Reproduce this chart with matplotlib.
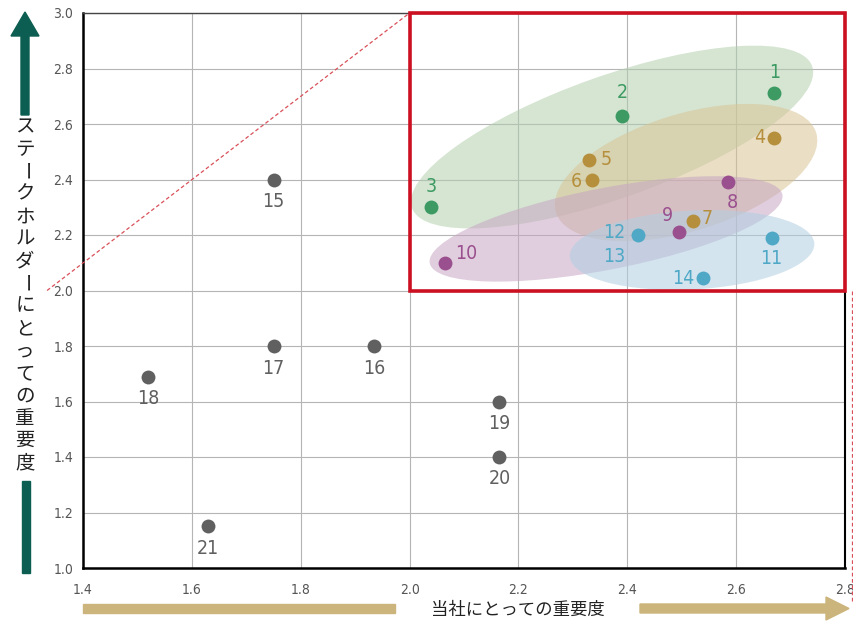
import matplotlib
matplotlib.use('Agg')
import matplotlib.pyplot as plt
from matplotlib.patches import Ellipse, Rectangle, Polygon
from matplotlib.transforms import Affine2D

plt.rcParams['font.family'] = ['Noto Sans CJK JP', 'DejaVu Sans']

# =========================
# Data
# =========================
ids = [str(i) for i in range(1, 22)]
x_company = [2.67, 2.39, 2.04, 2.67, 2.33, 2.335, 2.52, 2.585, 2.495, 2.065,
             2.665, 2.42, 2.42, 2.54, 1.75, 1.935, 1.75, 1.52, 2.165, 2.165, 1.63]
y_stake = [2.71, 2.63, 2.30, 2.55, 2.47, 2.40, 2.25, 2.39, 2.21, 2.10,
           2.19, 2.20, 2.20, 2.045, 2.40, 1.80, 1.80, 1.69, 1.60, 1.40, 1.15]
group = ['g', 'g', 'g', 't', 't', 't', 't', 'p', 'p', 'p',
         'b', 'b', 'b', 'b', 'k', 'k', 'k', 'k', 'k', 'k', 'k']

x_ticks = [1.4, 1.6, 1.8, 2.0, 2.2, 2.4, 2.6, 2.8]
y_ticks = [1.0, 1.2, 1.4, 1.6, 1.8, 2.0, 2.2, 2.4, 2.6, 2.8, 3.0]

xlabel = '当社にとっての重要度'
ylabel = 'ステークホルダーにとっての重要度'

# =========================
# Styles
# =========================
dot_color = {'g': '#3c9a62', 't': '#b58f3c', 'p': '#9a4f8e', 'b': '#4fa8c6', 'k': '#606060'}
fill_color = {'g': '#b3d0ae', 't': '#d9c394', 'p': '#c7a6c3', 'b': '#b0cfe2'}
num_font = dict(family=['DejaVu Sans'], stretch='condensed')

# label offsets in pixels (dx, dy up)
label_off = [(0, 21), (0, 23), (0, 21), (-15, 0), (17, 1), (-16, -2), (15, 3),
             (4, -20), (-12, 17), (21, 9), (0, -21), (-24, 2), (-24, -21), (-20, 0),
             (0, -22), (0, -22), (0, -22), (0, -22), (0, -22), (0, -22), (0, -22)]

# ellipses: centre (data), width/height in x-units, angle (deg, on screen)
ellipses = [('g', 2.372, 2.553, 0.78, 0.225, 19.5),
            ('t', 2.508, 2.425, 0.50, 0.215, 17.0),
            ('p', 2.361, 2.222, 0.66, 0.150, 11.0),
            ('b', 2.519, 2.146, 0.450, 0.145, 3.0)]

fig = plt.figure(figsize=(8.54, 6.30), dpi=100)
ax = fig.add_axes([83 / 854, 1 - 568 / 630, 762 / 854, 555 / 630])

ax.set_xlim(1.4, 2.8)
ax.set_ylim(1.0, 3.0)

# ratio of pixels per y-unit to pixels per x-unit
k = (555 / 2.0) / (762 / 1.4)
iso = Affine2D().scale(1, 1 / k) + ax.transData

for g, cx, cy, w, h, ang in ellipses:
    e = Ellipse((cx, cy * k), w, h, angle=ang, transform=iso,
                facecolor=fill_color[g], edgecolor='none', alpha=0.55, zorder=1)
    ax.add_patch(e)

ax.set_xticks(x_ticks)
ax.set_yticks(y_ticks)
ax.set_xticklabels([f'{v:.1f}' for v in x_ticks])
ax.set_yticklabels([f'{v:.1f}' for v in y_ticks])
for lab in ax.get_xticklabels() + ax.get_yticklabels():
    lab.set_family(num_font['family'])
    lab.set_stretch('condensed')
    lab.set_fontsize(10)
    lab.set_color('#555555')
ax.tick_params(length=0, pad=7)
ax.tick_params(axis='x', pad=11)
ax.grid(True, color='#b5b5b5', lw=0.8, zorder=0)
ax.set_axisbelow(True)

for side in ['left', 'bottom']:
    ax.spines[side].set_linewidth(1.8)
    ax.spines[side].set_color('black')
ax.spines['top'].set_linewidth(1.0)
ax.spines['top'].set_color('#444444')
ax.spines['right'].set_linewidth(1.5)
ax.spines['right'].set_color('black')

# points and labels
for i in range(len(ids)):
    if ids[i] != '13':
        ax.scatter(x_company[i], y_stake[i], s=100, color=dot_color[group[i]],
                   zorder=4, linewidths=0)
    dx, dy = label_off[i]
    ax.annotate(ids[i], (x_company[i], y_stake[i]), xytext=(dx * 0.72, dy * 0.72),
                textcoords='offset points', ha='center', va='center',
                fontsize=14, color=dot_color[group[i]], zorder=5, **num_font)

# red box and dashed guide lines
ax.add_patch(Rectangle((2.0, 2.0), 0.8, 1.0, fill=False, edgecolor='#cc1022',
                       lw=2.6, zorder=6, clip_on=False))
ax.plot([1.334, 2.0], [2.0, 3.0], color='#d9505a', lw=0.9, ls=(0, (3, 2)),
        clip_on=False, zorder=3)
ax.plot([2.813, 2.813], [2.0, 0.88], color='#d9505a', lw=0.9, ls=(0, (3, 2)),
        clip_on=False, zorder=3)

# =========================
# Overlay in pixel units for axis arrows and titles
# =========================
ov = fig.add_axes([0, 0, 1, 1], zorder=-1)
ov.set_xlim(0, 854)
ov.set_ylim(630, 0)
ov.axis('off')

teal = '#0d5e52'
gold = '#cbb57c'

# up arrow
ov.add_patch(Polygon([(21, 115), (29, 115), (29, 36), (39, 36), (25, 12),
                      (11, 36), (21, 36)], closed=True, color=teal))
ov.add_patch(Rectangle((22, 481), 8, 92, color=teal))
for j, ch in enumerate(ylabel):
    ov.text(25, 127 + j * 22.4, ch, ha='center', va='center', fontsize=14,
            color='#222222', rotation=-90 if ch == 'ー' else 0)

# right arrow
ov.add_patch(Rectangle((83, 604), 312, 9, color=gold))
ov.add_patch(Polygon([(640, 604), (826, 604), (826, 597), (849, 608.5),
                      (826, 620), (826, 613), (640, 613)], closed=True, color=gold))
ov.text(518, 610, xlabel, ha='center', va='center', fontsize=12.5, color='#222222')

plt.savefig('out.png', dpi=100)
